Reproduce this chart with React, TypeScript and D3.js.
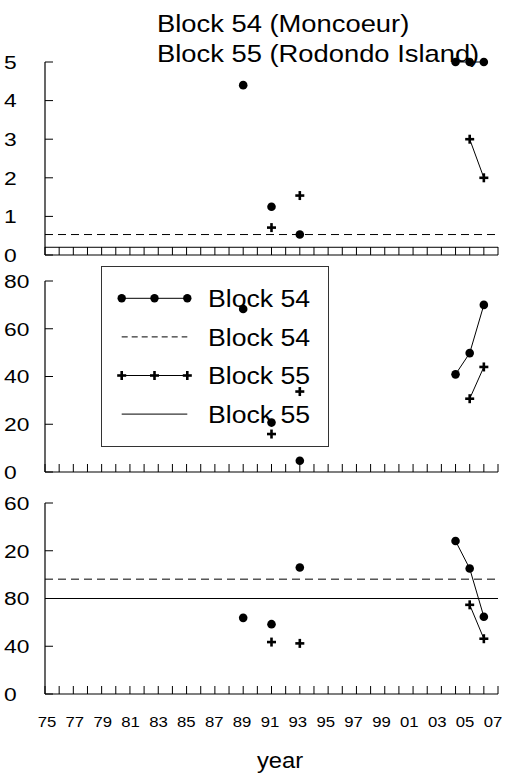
import React from "react";
import * as d3 from "d3";

const years54 = [1989, 1991, 1993, 2004, 2005, 2006];
const top54 = [4.4, 1.25, 0.53, 5, 5, 5];
const mid54 = [68.3, 20.7, 4.7, 40.9, 49.8, 70];
const bot54 = [63.8, 58.5, 106, 128.2, 105.1, 64.7];

const years55 = [1991, 1993, 2005, 2006];
const top55 = [0.71, 1.54, 3.0, 2.0];
const mid55 = [15.9, 33.7, 30.7, 44];
const bot55 = [43.5, 42.4, 74.7, 46.3];

const topTicks = [0, 1, 2, 3, 4, 5];
const topTickLabels = ["0", "1", "2", "3", "4", "5"];
const midTicks = [0, 20, 40, 60, 80];
const midTickLabels = ["0", "20", "40", "60", "80"];
const botTicks = [0, 40, 80, 120, 160];
const botTickLabels = ["0", "40", "80", "20", "60"];

const topRef54 = 0.53;
const topRef55 = 0.2;
const botRef54 = 96.2;
const botRef55 = 80;

const yearLabels = ["75", "77", "79", "81", "83", "85", "87", "89", "91", "93", "95", "97", "99", "01", "03", "05", "07"];
const legendLabels = ["Block 54", "Block 54", "Block 55", "Block 55"];
const titleLines = ["Block 54 (Moncoeur)", "Block 55 (Rodondo Island)"];

const FONT = "'Liberation Sans', Arial, sans-serif";
const W = 510;
const H = 781;

const x = d3.scaleLinear().domain([1975, 2007]).range([45, 498]);
const xLab = d3.scaleLinear().domain([1975, 2007]).range([47, 493]);
const allYears = d3.range(1975, 2008);

const panels = [
  { y: d3.scaleLinear().domain([0, 5]).range([255, 62]), ticks: topTicks, labels: topTickLabels, d54: top54, d55: top55, r54: topRef54 as number | null, r55: topRef55 as number | null },
  { y: d3.scaleLinear().domain([0, 80]).range([472, 281]), ticks: midTicks, labels: midTickLabels, d54: mid54, d55: mid55, r54: null, r55: null },
  { y: d3.scaleLinear().domain([0, 160]).range([694, 503]), ticks: botTicks, labels: botTickLabels, d54: bot54, d55: bot55, r54: botRef54 as number | null, r55: botRef55 as number | null },
];

function runs(years: number[], vals: number[]) {
  const out: [number, number][][] = [];
  let cur: [number, number][] = [];
  years.forEach((yr, i) => {
    if (i > 0 && yr - years[i - 1] !== 1) {
      if (cur.length > 1) out.push(cur);
      cur = [];
    }
    cur.push([yr, vals[i]]);
  });
  if (cur.length > 1) out.push(cur);
  return out;
}

function Plus({ cx, cy }: { cx: number; cy: number }) {
  const s = 4.5;
  return (
    <g stroke="#000" strokeWidth={2.6}>
      <line x1={cx - s} x2={cx + s} y1={cy} y2={cy} />
      <line x1={cx} x2={cx} y1={cy - s} y2={cy + s} />
    </g>
  );
}

function SText({ x: tx, y: ty, size, sx, anchor, dy, children }: { x: number; y: number; size: number; sx: number; anchor?: string; dy?: string; children: React.ReactNode }) {
  return (
    <text transform={`translate(${tx},${ty}) scale(${sx},1)`} fontSize={size} textAnchor={anchor || "start"} dy={dy}>
      {children}
    </text>
  );
}

export default function App() {
  return (
    <svg width={W} height={H} style={{ position: "absolute", left: 0, top: 0, background: "#fff" }} fontFamily={FONT}>
      <rect width={W} height={H} fill="#fff" />
      <g>
        <rect x={101.5} y={266.5} width={227} height={180} fill="#fff" stroke="#333" strokeWidth={1} />
        {legendLabels.map((lab, i) => {
          const ly = 298.3 + i * 38.6;
          return (
            <g key={i}>
              {i === 0 && (
                <g>
                  <line x1={121.7} x2={187.3} y1={ly} y2={ly} stroke="#000" strokeWidth={1} />
                  {[121.7, 154.5, 187.3].map((mx) => <circle key={mx} cx={mx} cy={ly} r={4.2} fill="#000" />)}
                </g>
              )}
              {i === 1 && <line x1={121.7} x2={187.3} y1={ly} y2={ly} stroke="#000" strokeWidth={1} strokeDasharray="6,4" />}
              {i === 2 && (
                <g>
                  <line x1={121.7} x2={187.3} y1={ly} y2={ly} stroke="#000" strokeWidth={1} />
                  {[121.7, 154.5, 187.3].map((mx) => <Plus key={mx} cx={mx} cy={ly} />)}
                </g>
              )}
              {i === 3 && <line x1={121.7} x2={187.3} y1={ly} y2={ly} stroke="#000" strokeWidth={1} />}
              <SText x={208} y={ly} size={24} sx={1.11} dy="0.36em">{lab}</SText>
            </g>
          );
        })}
      </g>

      {panels.map((p, pi) => {
        const y0 = p.y(0);
        const yTop = p.y.range()[1];
        const line = d3.line<[number, number]>().x((d) => x(d[0])).y((d) => p.y(d[1]));
        return (
          <g key={pi}>
            {p.r54 !== null && (
              <line x1={x(1975)} x2={x(2007)} y1={p.y(p.r54)} y2={p.y(p.r54)} stroke="#000" strokeWidth={1} strokeDasharray="8,5" />
            )}
            {p.r55 !== null && (
              <line x1={x(1975)} x2={x(2007)} y1={p.y(p.r55)} y2={p.y(p.r55)} stroke="#000" strokeWidth={1} />
            )}
            <line x1={x(1975)} x2={x(1975)} y1={yTop} y2={y0} stroke="#000" strokeWidth={1.2} />
            <line x1={x(1975)} x2={x(2007)} y1={y0} y2={y0} stroke="#000" strokeWidth={1.2} />
            {allYears.map((yr) => (
              <line key={yr} x1={x(yr)} x2={x(yr)} y1={y0} y2={y0 - 8} stroke="#000" strokeWidth={1} />
            ))}
            {p.ticks.map((t, i) => (
              <g key={t}>
                <line x1={x(1975)} x2={x(1975) + 8} y1={p.y(t)} y2={p.y(t)} stroke="#000" strokeWidth={1} />
                <SText x={4} y={p.y(t)} size={19} sx={1.2} dy="0.36em">{p.labels[i]}</SText>
              </g>
            ))}
            {runs(years54, p.d54).map((r, i) => (
              <path key={"a" + i} d={line(r) || ""} fill="none" stroke="#000" strokeWidth={1} />
            ))}
            {runs(years55, p.d55).map((r, i) => (
              <path key={"b" + i} d={line(r) || ""} fill="none" stroke="#000" strokeWidth={1} />
            ))}
            {years54.map((yr, i) => (
              <circle key={"c" + yr} cx={x(yr)} cy={p.y(p.d54[i])} r={4.3} fill="#000" />
            ))}
            {years55.map((yr, i) => (
              <Plus key={"p" + yr} cx={x(yr)} cy={p.y(p.d55[i])} />
            ))}
          </g>
        );
      })}

      {yearLabels.map((lab, i) => (
        <SText key={i} x={xLab(1975 + i * 2)} y={727} size={15.5} sx={1.08} anchor="middle">{lab}</SText>
      ))}
      <SText x={280} y={768} size={22} sx={1.08} anchor="middle">year</SText>

      {titleLines.map((t, i) => (
        <SText key={i} x={157} y={32 + i * 29.5} size={24} sx={1.14}>{t}</SText>
      ))}
    </svg>
  );
}
